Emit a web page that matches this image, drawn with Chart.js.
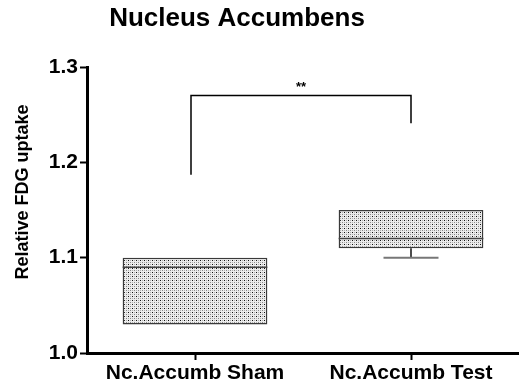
<!DOCTYPE html>
<html>
<head>
<meta charset="utf-8">
<script src="https://cdn.jsdelivr.net/npm/chart.js@4.4.0/dist/chart.umd.min.js"></script>
<style>
  html, body { margin: 0; padding: 0; background: #fff; }
  canvas { display: block; }
</style>
</head>
<body>
<canvas id="boxChart" width="519" height="390"></canvas>
<script>
// box plot values
var categories = ['Nc.Accumb Sham', 'Nc.Accumb Test'];
var boxMin = [1.03, 1.10];
var boxQ1 = [1.03, 1.11];
var boxMedian = [1.09, 1.12];
var boxQ3 = [1.10, 1.15];
var boxMax = [1.10, 1.15];
var yTicks = [1.0, 1.1, 1.2, 1.3];

// significance bracket: left end, top, right end
var sigBracket = [1.187, 1.27, 1.241];
var sigLabel = '**';

var chartTitle = 'Nucleus Accumbens';
var yTitle = 'Relative FDG uptake';

var FONT = '"Liberation Sans", Arial, sans-serif';

function makePattern() {
  var c = document.createElement('canvas');
  c.width = 4; c.height = 4;
  var g = c.getContext('2d');
  g.fillStyle = '#ececec';
  g.fillRect(0, 0, 4, 4);
  g.fillStyle = '#111';
  g.fillRect(0, 0, 1, 1);
  g.fillStyle = '#888';
  g.fillRect(2, 2, 1, 1);
  g.fillStyle = '#b0b0b0';
  g.fillRect(2, 0, 1, 1);
  g.fillRect(0, 2, 1, 1);
  return g.createPattern(c, 'repeat');
}

var boxExtras = {
  id: 'boxExtras',
  afterDatasetsDraw: function(chart) {
    var ctx = chart.ctx;
    var y = chart.scales.y;
    var bars = chart.getDatasetMeta(0).data;
    ctx.save();
    bars.forEach(function(bar, i) {
      var half = bar.width / 2;
      // median
      ctx.strokeStyle = '#444';
      ctx.lineWidth = 1.5;
      ctx.beginPath();
      ctx.moveTo(bar.x - half, y.getPixelForValue(boxMedian[i]));
      ctx.lineTo(bar.x + half, y.getPixelForValue(boxMedian[i]));
      ctx.stroke();
      // whiskers
      [[boxQ1[i], boxMin[i]], [boxQ3[i], boxMax[i]]].forEach(function(w) {
        if (w[0] === w[1]) return;
        ctx.strokeStyle = '#111';
        ctx.lineWidth = 1.5;
        ctx.beginPath();
        ctx.moveTo(bar.x, y.getPixelForValue(w[0]));
        ctx.lineTo(bar.x, y.getPixelForValue(w[1]));
        ctx.stroke();
        ctx.strokeStyle = '#777';
        ctx.lineWidth = 2;
        ctx.beginPath();
        ctx.moveTo(bar.x - bar.width * 0.19, y.getPixelForValue(w[1]));
        ctx.lineTo(bar.x + bar.width * 0.19, y.getPixelForValue(w[1]));
        ctx.stroke();
      });
    });

    // significance bracket
    var x1 = bars[0].x - 4, x2 = bars[1].x;
    ctx.strokeStyle = '#000';
    ctx.lineWidth = 1.5;
    ctx.beginPath();
    ctx.moveTo(x1, y.getPixelForValue(sigBracket[0]));
    ctx.lineTo(x1, y.getPixelForValue(sigBracket[1]));
    ctx.lineTo(x2, y.getPixelForValue(sigBracket[1]));
    ctx.lineTo(x2, y.getPixelForValue(sigBracket[2]));
    ctx.stroke();
    ctx.fillStyle = '#000';
    ctx.font = 'bold 13px ' + FONT;
    ctx.textAlign = 'center';
    ctx.textBaseline = 'alphabetic';
    ctx.fillText(sigLabel, (x1 + x2) / 2, y.getPixelForValue(sigBracket[1]) - 5);

    // chart title and y title
    ctx.font = 'bold 26px ' + FONT;
    ctx.fillText(chartTitle, 237, 26);
    ctx.translate(23, 192);
    ctx.rotate(-Math.PI / 2);
    ctx.font = 'bold 18px ' + FONT;
    ctx.textBaseline = 'middle';
    ctx.fillText(yTitle, 0, 0);
    ctx.restore();
  }
};

new Chart(document.getElementById('boxChart'), {
  type: 'bar',
  data: {
    labels: categories,
    datasets: [{
      data: categories.map(function(c, i) { return [boxQ1[i], boxQ3[i]]; }),
      backgroundColor: makePattern(),
      borderColor: '#3a3a3a',
      borderWidth: 1.5,
      borderSkipped: false,
      barPercentage: 0.67,
      categoryPercentage: 1
    }]
  },
  options: {
    responsive: false,
    animation: false,
    devicePixelRatio: 1,
    layout: { padding: { top: 67, left: 0, right: 0, bottom: 0 } },
    plugins: {
      legend: { display: false },
      tooltip: { enabled: false },
      title: { display: false }
    },
    scales: {
      x: {
        offset: true,
        grid: { offset: false, drawOnChartArea: false, tickLength: 7, tickWidth: 2, tickColor: '#000' },
        border: { display: true, color: '#000', width: 3 },
        ticks: { color: '#000', padding: 1, font: { family: FONT, size: 21, weight: 'bold' } },
        afterFit: function(s) { s.height = 37; }
      },
      y: {
        min: 1.0,
        max: 1.3,
        afterBuildTicks: function(s) { s.ticks = yTicks.map(function(v) { return { value: v }; }); },
        grid: { drawOnChartArea: false, tickLength: 7, tickWidth: 2, tickColor: '#000' },
        border: { display: true, color: '#000', width: 3 },
        ticks: {
          color: '#000', padding: 2,
          font: { family: FONT, size: 21, weight: 'bold' },
          callback: function(v) { return Number(v).toFixed(1); }
        },
        afterFit: function(s) { s.width = 87; }
      }
    }
  },
  plugins: [boxExtras]
});
</script>
</body>
</html>
